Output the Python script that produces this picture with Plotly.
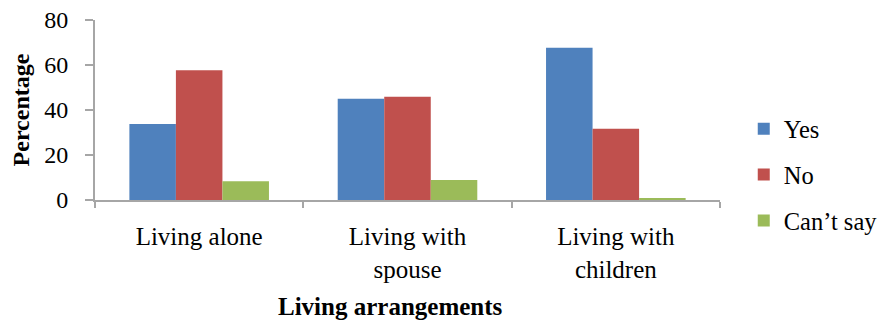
import plotly.graph_objects as go

categories = ["Living alone", "Living with<br>spouse", "Living with<br>children"]
yes_vals = [33.8, 45.0, 67.7]
no_vals = [57.7, 45.9, 31.7]
cant_say_vals = [8.3, 8.9, 0.5]

series = [
    ("Yes", yes_vals, "#4F81BD"),
    ("No", no_vals, "#C0504D"),
    ("Can\u2019t say", cant_say_vals, "#9BBB59"),
]

FONT = "Liberation Serif"
AXIS_GREY = "#A6A6A6"

fig = go.Figure()
for i, (name, vals, color) in enumerate(series):
    fig.add_trace(go.Bar(
        x=categories, y=vals, name=name,
        marker=dict(color=color, line=dict(width=0)),
        legendgroup=f"g{i}",
    ))

# x-axis caption placed as a paper annotation so it can sit slightly left of centre
fig.add_annotation(
    text="<b>Living arrangements</b>", xref="paper", yref="paper",
    x=0.472, y=-0.592, xanchor="center", yanchor="middle", showarrow=False,
    font=dict(family=FONT, size=25, color="#000000"),
)

fig.update_layout(
    width=878, height=323,
    margin=dict(l=95, r=158, t=20, b=123, autoexpand=False),
    paper_bgcolor="white", plot_bgcolor="white",
    barmode="group", bargap=0.33, bargroupgap=0,
    font=dict(family=FONT, color="#000000", size=24),
    showlegend=True,
    legend=dict(
        x=1.038, y=0.14, xanchor="left", yanchor="middle",
        font=dict(family=FONT, size=24.5, color="#000000"),
        traceorder="grouped", tracegroupgap=11, itemwidth=30,
        bgcolor="rgba(0,0,0,0)",
    ),
    xaxis=dict(
        showline=True, linecolor=AXIS_GREY, linewidth=2,
        ticks="outside", tickson="boundaries", ticklen=6,
        tickcolor=AXIS_GREY, tickwidth=2,
        tickfont=dict(family=FONT, size=25),
        ticklabelstandoff=13, automargin=False,
        showgrid=False, zeroline=False,
    ),
    yaxis=dict(
        range=[0, 80], dtick=20,
        showline=True, linecolor=AXIS_GREY, linewidth=2,
        ticks="outside", ticklen=8, tickcolor=AXIS_GREY, tickwidth=2,
        tickfont=dict(family=FONT, size=24), automargin=False,
        ticklabelstandoff=12,
        showgrid=False, zeroline=False,
        title=dict(text="<b>Percentage</b>",
                   font=dict(family=FONT, size=24), standoff=8),
    ),
)

fig.write_html("out.html")
